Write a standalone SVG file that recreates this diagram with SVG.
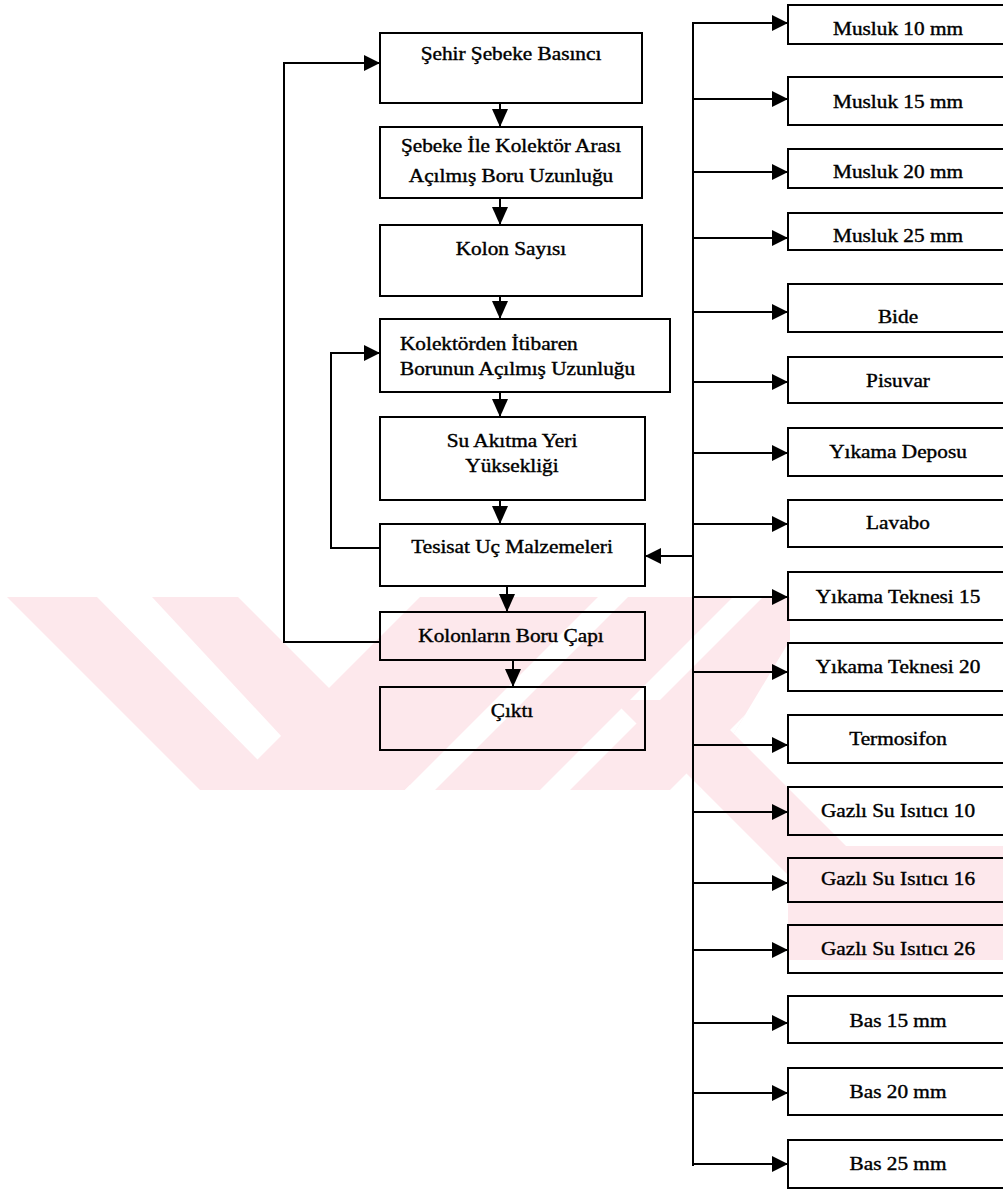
<svg xmlns="http://www.w3.org/2000/svg" width="1003" height="1192" viewBox="0 0 1003 1192">
<defs>
<style>
.box{fill:none;stroke:#000;stroke-width:2}
.ln{fill:none;stroke:#000;stroke-width:2}
.t{font-family:"Liberation Serif","Times New Roman",serif;font-size:19px;fill:#000;stroke:#000;stroke-width:0.4}
.c{text-anchor:middle}
.wm{fill:#fde8ec}
.wh{fill:#fff}
</style>
<marker id="ah" viewBox="0 0 16 16" refX="16" refY="8" markerWidth="16" markerHeight="16" markerUnits="userSpaceOnUse" orient="auto">
<path d="M0,0 L16,8 L0,16 z" fill="#000"/>
</marker>
<marker id="av" viewBox="0 0 18 16" refX="18" refY="8" markerWidth="18" markerHeight="16" markerUnits="userSpaceOnUse" orient="auto">
<path d="M0,0 L18,8 L0,16 z" fill="#000"/>
</marker>
<clipPath id="wmclip"><rect x="0" y="597" width="1003" height="380"/></clipPath>
<clipPath id="midclip"><polygon points="420,597 790,597 790,640 700,790 227,790"/></clipPath>
</defs>
<rect width="1003" height="1192" fill="#fff"/>
<g id="watermark" clip-path="url(#wmclip)">
<polygon class="wm" points="7,597 238,597 431,790 200,790"/>
<polygon class="wh" points="97,597 152,597 283,738 260,762"/>
<polygon class="wm" points="420,597 790,597 790,640 700,790 227,790"/>
<g clip-path="url(#midclip)">
<polygon class="wh" points="598,597 628,597 435,790 405,790"/>
<polygon class="wh" points="733,597 763,597 570,790 540,790"/>
<polygon class="wh" points="863,597 893,597 700,790 670,790"/>
</g>
<polygon class="wh" points="405,790 431,790 420,785 410,785"/>
<polygon class="wm" points="613,700 700,700 880,880 793,880"/>
<polygon class="wm" points="788,846 1003,846 1003,960 788,960"/>
</g>
<g id="connectors">
<line class="ln" x1="500" y1="103" x2="500" y2="127" marker-end="url(#av)"/>
<line class="ln" x1="500" y1="198" x2="500" y2="225" marker-end="url(#av)"/>
<line class="ln" x1="500" y1="296" x2="500" y2="319" marker-end="url(#av)"/>
<line class="ln" x1="500" y1="392" x2="500" y2="417" marker-end="url(#av)"/>
<line class="ln" x1="500" y1="500" x2="500" y2="524" marker-end="url(#av)"/>
<line class="ln" x1="507" y1="586" x2="507" y2="612" marker-end="url(#av)"/>
<line class="ln" x1="513" y1="660" x2="513" y2="687" marker-end="url(#av)"/>
<polyline class="ln" points="380,642 284,642 284,63 380,63" marker-end="url(#ah)"/>
<polyline class="ln" points="380,548 331,548 331,353 380,353" marker-end="url(#ah)"/>
<line class="ln" x1="693" y1="22" x2="693" y2="1166"/>
<line class="ln" x1="694" y1="556" x2="645" y2="556" marker-end="url(#ah)"/>
<line class="ln" x1="692" y1="23" x2="788" y2="23" marker-end="url(#ah)"/>
<line class="ln" x1="692" y1="99" x2="788" y2="99" marker-end="url(#ah)"/>
<line class="ln" x1="692" y1="172" x2="788" y2="172" marker-end="url(#ah)"/>
<line class="ln" x1="692" y1="238" x2="788" y2="238" marker-end="url(#ah)"/>
<line class="ln" x1="692" y1="312" x2="788" y2="312" marker-end="url(#ah)"/>
<line class="ln" x1="692" y1="382" x2="788" y2="382" marker-end="url(#ah)"/>
<line class="ln" x1="692" y1="453" x2="788" y2="453" marker-end="url(#ah)"/>
<line class="ln" x1="692" y1="524" x2="788" y2="524" marker-end="url(#ah)"/>
<line class="ln" x1="692" y1="597" x2="788" y2="597" marker-end="url(#ah)"/>
<line class="ln" x1="692" y1="672" x2="788" y2="672" marker-end="url(#ah)"/>
<line class="ln" x1="692" y1="745" x2="788" y2="745" marker-end="url(#ah)"/>
<line class="ln" x1="692" y1="812" x2="788" y2="812" marker-end="url(#ah)"/>
<line class="ln" x1="692" y1="883" x2="788" y2="883" marker-end="url(#ah)"/>
<line class="ln" x1="692" y1="950" x2="788" y2="950" marker-end="url(#ah)"/>
<line class="ln" x1="692" y1="1023" x2="788" y2="1023" marker-end="url(#ah)"/>
<line class="ln" x1="692" y1="1093" x2="788" y2="1093" marker-end="url(#ah)"/>
<line class="ln" x1="692" y1="1164" x2="788" y2="1164" marker-end="url(#ah)"/>
</g>
<g id="n-sehir"><rect class="box" x="380" y="33" width="262" height="70"/><text class="t c" transform="translate(511,60) scale(1.12,1)">Şehir Şebeke Basıncı</text></g>
<g id="n-sebeke"><rect class="box" x="380" y="127" width="262" height="71"/><text class="t c" transform="translate(511,152) scale(1.12,1)">Şebeke İle Kolektör Arası</text><text class="t c" transform="translate(511,182) scale(1.12,1)">Açılmış Boru Uzunluğu</text></g>
<g id="n-kolon"><rect class="box" x="380" y="225" width="262" height="71"/><text class="t c" transform="translate(511,255) scale(1.12,1)">Kolon Sayısı</text></g>
<g id="n-kolektor"><rect class="box" x="380" y="319" width="290" height="73"/><text class="t" transform="translate(400,350) scale(1.12,1)">Kolektörden İtibaren</text><text class="t" transform="translate(400,375) scale(1.12,1)">Borunun Açılmış Uzunluğu</text></g>
<g id="n-su"><rect class="box" x="380" y="417" width="265" height="83"/><text class="t c" transform="translate(512,447) scale(1.12,1)">Su Akıtma Yeri</text><text class="t c" transform="translate(512,472) scale(1.12,1)">Yüksekliği</text></g>
<g id="n-tesisat"><rect class="box" x="380" y="524" width="265" height="62"/><text class="t c" transform="translate(512,553) scale(1.12,1)">Tesisat Uç Malzemeleri</text></g>
<g id="n-kolonlarin"><rect class="box" x="380" y="612" width="265" height="48"/><text class="t c" transform="translate(511,642) scale(1.12,1)">Kolonların Boru Çapı</text></g>
<g id="n-cikti"><rect class="box" x="380" y="687" width="265" height="63"/><text class="t c" transform="translate(512,717) scale(1.12,1)">Çıktı</text></g>
<g id="n-m10"><rect class="box" x="788" y="5" width="230" height="39"/><text class="t c" transform="translate(898,35) scale(1.12,1)">Musluk 10 mm</text></g>
<g id="n-m15"><rect class="box" x="788" y="77" width="230" height="48"/><text class="t c" transform="translate(898,108) scale(1.12,1)">Musluk 15 mm</text></g>
<g id="n-m20"><rect class="box" x="788" y="149" width="230" height="39"/><text class="t c" transform="translate(898,178) scale(1.12,1)">Musluk 20 mm</text></g>
<g id="n-m25"><rect class="box" x="788" y="213" width="230" height="37"/><text class="t c" transform="translate(898,242) scale(1.12,1)">Musluk 25 mm</text></g>
<g id="n-bide"><rect class="box" x="788" y="284" width="230" height="48"/><text class="t c" transform="translate(898,323) scale(1.12,1)">Bide</text></g>
<g id="n-pisuvar"><rect class="box" x="788" y="357" width="230" height="46"/><text class="t c" transform="translate(898,387) scale(1.12,1)">Pisuvar</text></g>
<g id="n-depo"><rect class="box" x="788" y="428" width="230" height="48"/><text class="t c" transform="translate(898,458) scale(1.12,1)">Yıkama Deposu</text></g>
<g id="n-lavabo"><rect class="box" x="788" y="500" width="230" height="47"/><text class="t c" transform="translate(898,529) scale(1.12,1)">Lavabo</text></g>
<g id="n-yt15"><rect class="box" x="788" y="572" width="230" height="48"/><text class="t c" transform="translate(898,603) scale(1.12,1)">Yıkama Teknesi 15</text></g>
<g id="n-yt20"><rect class="box" x="788" y="643" width="230" height="48"/><text class="t c" transform="translate(898,673) scale(1.12,1)">Yıkama Teknesi 20</text></g>
<g id="n-termo"><rect class="box" x="788" y="715" width="230" height="48"/><text class="t c" transform="translate(898,745) scale(1.12,1)">Termosifon</text></g>
<g id="n-g10"><rect class="box" x="788" y="787" width="230" height="48"/><text class="t c" transform="translate(898,817) scale(1.12,1)">Gazlı Su Isıtıcı 10</text></g>
<g id="n-g16"><rect class="box" x="788" y="858" width="230" height="44"/><text class="t c" transform="translate(898,885) scale(1.12,1)">Gazlı Su Isıtıcı 16</text></g>
<g id="n-g26"><rect class="box" x="788" y="925" width="230" height="48"/><text class="t c" transform="translate(898,955) scale(1.12,1)">Gazlı Su Isıtıcı 26</text></g>
<g id="n-b15"><rect class="box" x="788" y="996" width="230" height="47"/><text class="t c" transform="translate(898,1027) scale(1.12,1)">Bas 15 mm</text></g>
<g id="n-b20"><rect class="box" x="788" y="1068" width="230" height="47"/><text class="t c" transform="translate(898,1098) scale(1.12,1)">Bas 20 mm</text></g>
<g id="n-b25"><rect class="box" x="788" y="1140" width="230" height="48"/><text class="t c" transform="translate(898,1170) scale(1.12,1)">Bas 25 mm</text></g>
</svg>
